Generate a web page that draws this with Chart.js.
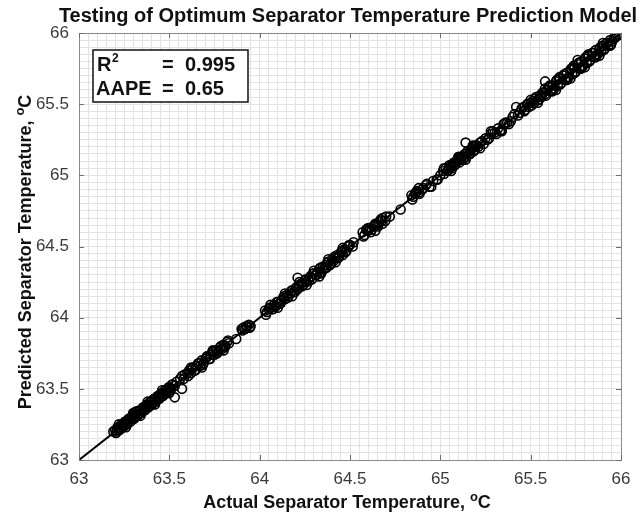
<!DOCTYPE html>
<html>
<head>
<meta charset="utf-8">
<script src="https://cdn.jsdelivr.net/npm/chart.js@4.4.1/dist/chart.umd.min.js"></script>
<style>
  html, body { margin: 0; padding: 0; background: #fff; }
  #wrap { width: 642px; height: 516px; }
</style>
</head>
<body>
<div id="wrap"><canvas id="sepChart" width="642" height="516"></canvas></div>
<script>
// Actual vs. predicted optimum separator temperature (degC)
const actualTemp = [
  63.19, 63.20, 63.21, 63.21, 63.22, 63.23, 63.24, 63.25, 63.25, 63.26, 63.27, 63.28, 63.29, 63.30, 63.30,
  63.31, 63.31, 63.32, 63.33, 63.34, 63.35, 63.36, 63.37, 63.37, 63.38, 63.39, 63.40, 63.41, 63.42, 63.43,
  63.44, 63.45, 63.45, 63.46, 63.47, 63.48, 63.49, 63.50, 63.51, 63.52, 63.53, 63.54, 63.56, 63.53, 63.57,
  63.57, 63.58, 63.60, 63.61, 63.62, 63.63, 63.64, 63.65, 63.66, 63.67, 63.68, 63.69, 63.70, 63.71, 63.72,
  63.73, 63.74, 63.75, 63.76, 63.77, 63.78, 63.79, 63.80, 63.81, 63.82, 63.83, 63.87,
  63.90, 63.91, 63.92, 63.93, 63.94, 63.95,
  64.03, 64.04, 64.05, 64.06, 64.07, 64.08, 64.09, 64.10, 64.11, 64.12, 64.13, 64.14, 64.15, 64.16, 64.17,
  64.18, 64.19, 64.20, 64.21, 64.22, 64.23, 64.24, 64.25, 64.26, 64.27, 64.28, 64.29, 64.30, 64.31, 64.32,
  64.33, 64.34, 64.35, 64.36, 64.37, 64.38, 64.39, 64.40, 64.41, 64.42, 64.43, 64.44, 64.45, 64.46, 64.47,
  64.48, 64.49, 64.50, 64.52, 64.21, 64.33,
  64.57, 64.58, 64.59, 64.60, 64.61, 64.62, 64.63, 64.64, 64.65, 64.66, 64.67, 64.68, 64.70, 64.72, 64.78,
  64.84, 64.85, 64.86, 64.87, 64.88, 64.90, 64.92, 64.94, 64.96, 64.98, 65.00, 65.02, 65.03, 65.04, 65.05,
  65.06, 65.07, 65.08, 65.09, 65.10, 65.11, 65.12, 65.13, 65.14, 65.15, 65.16, 65.17, 65.18, 65.19, 65.20,
  65.22, 65.24, 65.25, 65.26, 65.28, 65.30, 65.31, 65.32, 65.34, 65.35, 65.37, 65.39, 65.41, 65.43, 65.45,
  65.14, 65.42,
  65.46, 65.47, 65.48, 65.49, 65.50, 65.51, 65.52, 65.53, 65.54, 65.55, 65.56, 65.57, 65.58, 65.59, 65.60,
  65.61, 65.62, 65.63, 65.64, 65.65, 65.66, 65.67, 65.68, 65.69, 65.70, 65.71, 65.72, 65.73, 65.74, 65.75,
  65.76, 65.77, 65.78, 65.79, 65.80, 65.81, 65.82, 65.83, 65.84, 65.85, 65.86, 65.87, 65.88, 65.89, 65.90,
  65.91, 65.92, 65.93, 65.94, 65.95, 65.96, 65.97, 65.99, 65.58, 65.76,
  // second batch of test cases
  63.205, 63.215, 63.225, 63.235, 63.245, 63.255, 63.265, 63.275, 63.285, 63.295, 63.305, 63.315, 63.325,
  63.335, 63.345, 63.355, 63.365, 63.375, 63.385, 63.395, 63.405, 63.415, 63.425, 63.435, 63.445, 63.455,
  63.465, 63.475, 63.485, 63.495, 63.505, 63.515,
  63.585, 63.605, 63.625, 63.645, 63.665, 63.685, 63.705, 63.725, 63.745, 63.765, 63.785, 63.805, 63.825,
  63.905, 63.925, 63.945,
  64.035, 64.055, 64.075, 64.095, 64.115, 64.135, 64.155, 64.175, 64.195, 64.215, 64.235, 64.255, 64.275,
  64.295, 64.315, 64.335, 64.355, 64.375, 64.395, 64.415, 64.435, 64.455, 64.475, 64.495, 64.515, 64.37,
  64.575, 64.595, 64.615, 64.635, 64.655, 64.675, 64.695,
  64.845, 64.865, 64.885, 64.905, 64.925, 64.985, 65.015, 65.045, 65.055, 65.065, 65.075, 65.085, 65.095,
  65.105, 65.115, 65.125, 65.135, 65.145, 65.155, 65.165, 65.175, 65.185, 65.195, 65.21, 65.23, 65.27,
  65.29, 65.33, 65.36, 65.38, 65.40, 65.44,
  65.465, 65.485, 65.505, 65.525, 65.545, 65.565, 65.585, 65.605, 65.625, 65.645, 65.665, 65.685, 65.705,
  65.725, 65.745, 65.765, 65.785, 65.805, 65.825, 65.845, 65.865, 65.885, 65.905, 65.925, 65.945, 65.965,
  65.98, 65.615, 65.655, 65.695, 65.735, 65.775, 65.815, 65.855, 65.895,
  // third batch of test cases
  63.22, 63.26, 63.30, 63.34, 63.38, 63.42, 63.46, 63.50,
  63.62, 63.68, 63.74, 63.80,
  64.06, 64.10, 64.14, 64.18, 64.22, 64.26, 64.30, 64.34, 64.38, 64.42, 64.46,
  64.60, 64.64, 64.68,
  64.88, 64.95, 65.02, 65.06, 65.10, 65.14, 65.18, 65.22, 65.28, 65.34,
  65.50, 65.54, 65.58, 65.62, 65.66, 65.70, 65.74, 65.78, 65.82, 65.86, 65.90, 65.94,
  65.64, 65.72, 65.80, 65.88
]
const predictedTemp = [
  63.20, 63.21, 63.22, 63.20, 63.23, 63.22, 63.25, 63.24, 63.26, 63.27, 63.26, 63.29, 63.30, 63.32, 63.29,
  63.33, 63.30, 63.34, 63.32, 63.35, 63.34, 63.37, 63.36, 63.38, 63.39, 63.38, 63.41, 63.40, 63.43, 63.42,
  63.45, 63.44, 63.46, 63.47, 63.46, 63.49, 63.48, 63.51, 63.50, 63.53, 63.52, 63.55, 63.57, 63.44, 63.50,
  63.59, 63.57, 63.61, 63.63, 63.61, 63.65, 63.63, 63.66, 63.68, 63.66, 63.70, 63.68, 63.71, 63.73, 63.71,
  63.74, 63.76, 63.74, 63.77, 63.76, 63.79, 63.78, 63.81, 63.80, 63.83, 63.82, 63.85,
  63.92, 63.93, 63.92, 63.94, 63.95, 63.94,
  64.05, 64.04, 64.06, 64.07, 64.06, 64.09, 64.08, 64.11, 64.10, 64.12, 64.14, 64.13, 64.16, 64.15, 64.17,
  64.19, 64.18, 64.21, 64.20, 64.22, 64.24, 64.23, 64.26, 64.25, 64.27, 64.29, 64.27, 64.31, 64.30, 64.32,
  64.34, 64.32, 64.36, 64.35, 64.37, 64.39, 64.37, 64.41, 64.40, 64.42, 64.44, 64.43, 64.46, 64.44, 64.48,
  64.47, 64.50, 64.51, 64.53, 64.28, 64.29,
  64.60, 64.58, 64.62, 64.61, 64.63, 64.62, 64.64, 64.66, 64.65, 64.67, 64.69, 64.70, 64.71, 64.71, 64.76,
  64.86, 64.85, 64.87, 64.89, 64.88, 64.90, 64.93, 64.92, 64.96, 64.97, 65.00, 65.01, 65.05, 65.03, 65.07,
  65.06, 65.08, 65.07, 65.10, 65.12, 65.11, 65.13, 65.12, 65.15, 65.17, 65.15, 65.18, 65.20, 65.18, 65.21,
  65.23, 65.22, 65.26, 65.25, 65.29, 65.30, 65.29, 65.33, 65.32, 65.36, 65.37, 65.38, 65.43, 65.42, 65.47,
  65.23, 65.48,
  65.48, 65.46, 65.50, 65.48, 65.51, 65.52, 65.51, 65.55, 65.53, 65.56, 65.55, 65.58, 65.57, 65.60, 65.62,
  65.59, 65.63, 65.61, 65.66, 65.63, 65.68, 65.65, 65.70, 65.67, 65.72, 65.69, 65.74, 65.71, 65.77, 65.73,
  65.78, 65.75, 65.80, 65.77, 65.82, 65.79, 65.84, 65.81, 65.86, 65.83, 65.88, 65.85, 65.89, 65.87, 65.91,
  65.89, 65.93, 65.91, 65.95, 65.94, 65.96, 65.97, 65.99, 65.66, 65.81,
  // second batch of test cases
  63.19, 63.23, 63.21, 63.25, 63.23, 63.27, 63.25, 63.29, 63.27, 63.31, 63.29, 63.34, 63.31,
  63.35, 63.33, 63.37, 63.35, 63.39, 63.37, 63.41, 63.39, 63.43, 63.41, 63.45, 63.43, 63.47,
  63.45, 63.49, 63.47, 63.51, 63.49, 63.53,
  63.60, 63.59, 63.64, 63.63, 63.68, 63.67, 63.72, 63.71, 63.76, 63.75, 63.80, 63.79, 63.84,
  63.91, 63.94, 63.93,
  64.02, 64.07, 64.06, 64.11, 64.10, 64.15, 64.14, 64.19, 64.18, 64.23, 64.22, 64.27, 64.26,
  64.31, 64.30, 64.35, 64.34, 64.39, 64.38, 64.43, 64.42, 64.47, 64.46, 64.51, 64.50, 64.35,
  64.57, 64.61, 64.60, 64.65, 64.64, 64.68, 64.68,
  64.83, 64.88, 64.87, 64.91, 64.94, 64.97, 65.03, 65.04, 65.07, 65.05, 65.09, 65.08, 65.11,
  65.09, 65.13, 65.11, 65.15, 65.13, 65.17, 65.15, 65.19, 65.17, 65.21, 65.20, 65.24, 65.26,
  65.31, 65.31, 65.37, 65.36, 65.41, 65.44,
  65.45, 65.50, 65.49, 65.54, 65.53, 65.58, 65.56, 65.63, 65.60, 65.67, 65.64, 65.71, 65.68,
  65.75, 65.72, 65.79, 65.76, 65.83, 65.80, 65.86, 65.84, 65.90, 65.88, 65.93, 65.92, 65.97,
  65.98, 65.60, 65.68, 65.67, 65.76, 65.75, 65.84, 65.83, 65.91,
  // third batch of test cases
  63.25, 63.23, 63.33, 63.31, 63.41, 63.39, 63.49, 63.47,
  63.65, 63.65, 63.77, 63.77,
  64.09, 64.07, 64.17, 64.15, 64.25, 64.23, 64.33, 64.31, 64.41, 64.39, 64.49,
  64.63, 64.61, 64.66,
  64.91, 64.92, 65.05, 65.03, 65.13, 65.11, 65.21, 65.19, 65.31, 65.31,
  65.53, 65.51, 65.61, 65.59, 65.69, 65.67, 65.77, 65.75, 65.85, 65.83, 65.93, 65.91,
  65.60, 65.68, 65.76, 65.84
]
// labelled ticks on both axes
const axisTicks = [63, 63.5, 64, 64.5, 65, 65.5, 66]
const axisMin = 63
const axisMax = 66
// stats shown in the corner box
const rSquared = "0.995"
const aape = "0.65"

const FONT = "'Liberation Sans', Arial, Helvetica, sans-serif"

const points = actualTemp.map((x, i) => ({ x: x, y: predictedTemp[i] }))
const idealLine = [{ x: axisMin, y: axisMin }, { x: axisMax, y: axisMax }]

const isMajor = (v) => axisTicks.some((t) => Math.abs(t - v) < 1e-6)

// frame, inward ticks, titles and the stats box
const decorations = {
  id: "decorations",
  afterDraw(chart) {
    const ctx = chart.ctx
    const area = chart.chartArea
    const xs = chart.scales.x
    const ys = chart.scales.y
    ctx.save()

    // box around the axes
    ctx.strokeStyle = "#8a8a8a"
    ctx.lineWidth = 1
    ctx.strokeRect(Math.round(area.left) + 0.5, Math.round(area.top) + 0.5,
      Math.round(area.right - area.left), Math.round(area.bottom - area.top))

    // short tick marks pointing into the plot
    ctx.strokeStyle = "#6e6e6e"
    ctx.beginPath()
    axisTicks.forEach((t) => {
      const px = Math.round(xs.getPixelForValue(t)) + 0.5
      ctx.moveTo(px, area.bottom); ctx.lineTo(px, area.bottom - 5)
      ctx.moveTo(px, area.top); ctx.lineTo(px, area.top + 5)
      const py = Math.round(ys.getPixelForValue(t)) + 0.5
      ctx.moveTo(area.left, py); ctx.lineTo(area.left + 5, py)
      ctx.moveTo(area.right, py); ctx.lineTo(area.right - 5, py)
    })
    ctx.stroke()

    ctx.fillStyle = "#111"

    // chart title
    ctx.font = "bold 20px " + FONT
    ctx.textAlign = "center"
    ctx.textBaseline = "alphabetic"
    ctx.fillText("Testing of Optimum Separator Temperature Prediction Model", 348, 22)

    // axis titles with a raised "o" before C
    const degLabel = (text, cx, cy, rotate) => {
      ctx.save()
      ctx.translate(cx, cy)
      if (rotate) ctx.rotate(-Math.PI / 2)
      ctx.font = "bold 18px " + FONT
      const w1 = ctx.measureText(text).width
      ctx.font = "bold 13px " + FONT
      const w2 = ctx.measureText("o").width
      ctx.font = "bold 18px " + FONT
      const w3 = ctx.measureText("C").width
      let x = -(w1 + w2 + w3) / 2
      ctx.textAlign = "left"
      ctx.fillText(text, x, 0)
      x += w1
      ctx.font = "bold 13px " + FONT
      ctx.fillText("o", x, -7)
      x += w2
      ctx.font = "bold 18px " + FONT
      ctx.fillText("C", x, 0)
      ctx.restore()
    }
    degLabel("Actual Separator Temperature, ", 347, 508, false)
    degLabel("Predicted Separator Temperature, ", 31, 252, true)

    // stats box
    ctx.fillStyle = "#fff"
    ctx.fillRect(93, 50, 155, 52)
    ctx.strokeStyle = "#111"
    ctx.lineWidth = 1.5
    ctx.strokeRect(93, 50, 155, 52)
    ctx.fillStyle = "#111"
    ctx.textAlign = "left"
    ctx.font = "bold 20px " + FONT
    ctx.fillText("R", 97, 71)
    ctx.font = "bold 12px " + FONT
    ctx.fillText("2", 112, 62)
    ctx.font = "bold 20px " + FONT
    ctx.fillText("=", 162, 71)
    ctx.fillText(rSquared, 185, 71)
    ctx.fillText("AAPE", 96, 95)
    ctx.fillText("=", 162, 95)
    ctx.fillText(aape, 185, 95)

    ctx.restore()
  }
}

const tickLabel = (v) => (isMajor(v) ? String(parseFloat(v.toFixed(2))) : "")

new Chart(document.getElementById("sepChart"), {
  type: "scatter",
  data: {
    datasets: [
      {
        type: "line",
        data: idealLine,
        borderColor: "#000",
        borderWidth: 2,
        pointRadius: 0,
        fill: false,
      },
      {
        data: points,
        pointStyle: "circle",
        pointRadius: 4.5,
        pointBorderWidth: 1.6,
        pointBorderColor: "#000",
        pointBackgroundColor: "rgba(0,0,0,0)",
      },
    ],
  },
  options: {
    responsive: false,
    animation: false,
    events: [],
    layout: { padding: { top: 33, right: 21, left: 0, bottom: 0 } },
    plugins: {
      legend: { display: false },
      tooltip: { enabled: false },
      title: { display: false },
    },
    scales: {
      x: {
        type: "linear",
        min: axisMin,
        max: axisMax,
        afterFit: (scale) => { scale.height = 56 },
        grid: { color: "#e2e2e2", drawTicks: false },
        border: { display: false },
        ticks: {
          stepSize: 0.05,
          autoSkip: false,
          maxRotation: 0,
          padding: 9,
          color: "#3a3a3a",
          font: { family: FONT, size: 17 },
          callback: tickLabel,
        },
      },
      y: {
        type: "linear",
        min: axisMin,
        max: axisMax,
        afterFit: (scale) => { scale.width = 79 },
        grid: { color: "#e2e2e2", drawTicks: false },
        border: { display: false },
        ticks: {
          stepSize: 0.05,
          autoSkip: false,
          padding: 10,
          color: "#3a3a3a",
          font: { family: FONT, size: 17 },
          callback: tickLabel,
        },
      },
    },
  },
  plugins: [decorations],
})
</script>
</body>
</html>
